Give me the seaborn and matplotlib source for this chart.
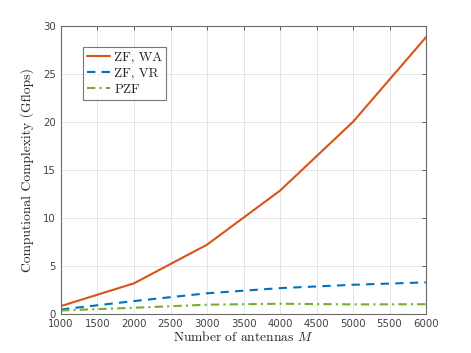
import numpy as np
import pandas as pd
import matplotlib
matplotlib.use("Agg")
import matplotlib.pyplot as plt
import seaborn as sns

M = [1000, 2000, 3000, 4000, 5000, 6000]
zf_wa = [0.83, 3.2, 7.23, 12.87, 20.05, 28.88]
zf_vr = [0.47, 1.35, 2.16, 2.7, 3.05, 3.3]
pzf = [0.37, 0.65, 0.97, 1.07, 1.0, 1.02]
labels = ["ZF, WA", "ZF, VR", "PZF"]
xticks = [1000, 1500, 2000, 2500, 3000, 3500, 4000, 4500, 5000, 5500, 6000]
yticks = [0, 5, 10, 15, 20, 25, 30]

sns.set_style("white")
plt.rcParams["mathtext.fontset"] = "cm"
plt.rcParams["font.family"] = ["DejaVu Sans"]

fig = plt.figure(figsize=(4.71, 3.53), dpi=100)
ax = fig.add_axes([0.1295, 0.1105, 0.775, 0.8145])

styles = [("#D95319", "-"), ("#0072BD", (0, (4, 3))), ("#77AC30", (0, (4, 2, 1, 2)))]
for vals, lab, (c, ls) in zip([zf_wa, zf_vr, pzf], labels, styles):
    df = pd.DataFrame({"M": M, "v": vals})
    sns.lineplot(data=df, x="M", y="v", ax=ax, color=c, linestyle=ls, linewidth=1.5, label=lab)

ax.set_xlim(1000, 6000)
ax.set_ylim(0, 30)
ax.set_xticks(xticks)
ax.set_yticks(yticks)
ax.grid(True, color="#e6e6e6", linewidth=0.7)
for s in ax.spines.values():
    s.set_color("#6b6b6b")
    s.set_linewidth(0.8)
ax.tick_params(direction="in", length=3, width=0.6, colors="#404040", labelsize=7.3,
               top=True, right=True, labelcolor="#404040")
ax.set_xlabel("Number of antennas $M$", fontfamily="cmr10", fontsize=9.7, labelpad=1)
ax.set_ylabel("Computional Complexity (Gflops)", fontfamily="cmr10", fontsize=9.8, labelpad=7)

leg = ax.legend(loc="upper left", bbox_to_anchor=(0.061, 0.927), frameon=True, fancybox=False,
                prop={"family": "cmr10", "size": 9.5}, handlelength=1.75, handletextpad=0.3,
                borderpad=0.3, labelspacing=0.3, borderaxespad=0)
leg.get_frame().set_edgecolor("#555555")
leg.get_frame().set_linewidth(0.8)

fig.savefig("out.png", dpi=100)
